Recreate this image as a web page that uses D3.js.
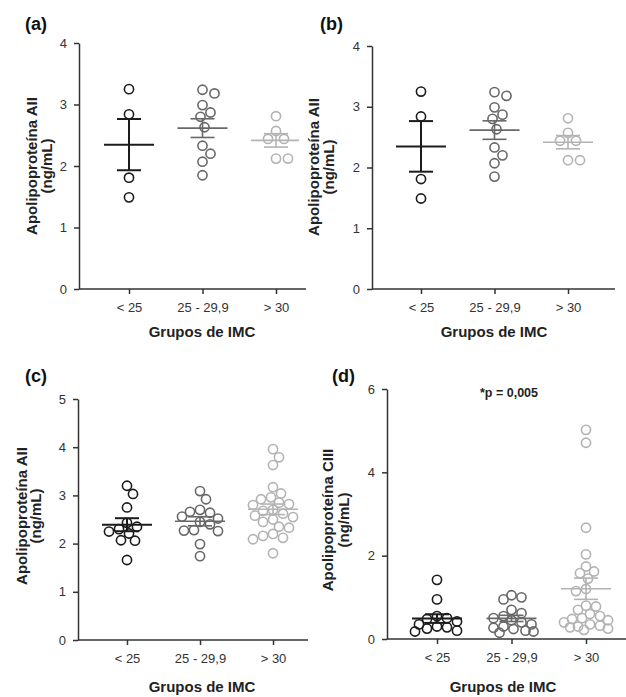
<!DOCTYPE html>
<html>
<head>
<meta charset="utf-8">
<script src="https://cdn.jsdelivr.net/npm/d3@7"></script>
<style>
    body { margin: 0; background: #fff; }
    text { font-family: "Liberation Sans", Arial, sans-serif; }
</style>
</head>
<body>
<svg id="chart" width="626" height="697"></svg>
<script>
// BMI groups (x categories)
const groups = ["< 25", "25 - 29,9", "> 30"];

// (a) and (b): Apolipoproteína AII, ng/mL
const apoA2_lt25 = [3.25, 2.84, 1.81, 1.49];
const apoA2_25to30 = [3.24, 3.18, 2.99, 2.87, 2.80, 2.63, 2.33, 2.20, 2.07, 1.85];
const apoA2_gt30 = [2.81, 2.57, 2.44, 2.44, 2.12, 2.12];

// (c): Apolipoproteína AII, ng/mL
const apoA2c_lt25 = [3.20, 3.03, 2.75, 2.43, 2.35, 2.30, 2.25, 2.21, 2.07, 2.06, 1.66];
const apoA2c_25to30 = [3.09, 2.92, 2.70, 2.66, 2.64, 2.56, 2.52, 2.45, 2.40, 2.28, 2.27, 2.26, 1.99, 1.74];
const apoA2c_gt30 = [3.96, 3.79, 3.63, 3.17, 3.04, 2.96, 2.92, 2.85, 2.82, 2.80, 2.70, 2.68,
    2.62, 2.58, 2.55, 2.50, 2.45, 2.35, 2.33, 2.20, 2.16, 2.12, 2.09, 1.80];

// (d): Apolipoproteína CIII, ng/mL
const apoC3_lt25 = [1.42, 0.95, 0.55, 0.50, 0.48, 0.42, 0.35, 0.30, 0.28, 0.25, 0.20, 0.18];
const apoC3_25to30 = [1.05, 1.00, 0.95, 0.70, 0.62, 0.55, 0.50, 0.45, 0.40, 0.35, 0.30, 0.27, 0.24, 0.20, 0.18, 0.15];
const apoC3_gt30 = [5.02, 4.71, 2.67, 2.03, 1.74, 1.62, 1.58, 1.45, 1.20, 1.15, 0.80, 0.78, 0.70,
    0.60, 0.55, 0.50, 0.48, 0.45, 0.40, 0.35, 0.32, 0.30, 0.28, 0.25, 0.22];

const ticksAB = [0, 1, 2, 3, 4];
const ticksC = [0, 1, 2, 3, 4, 5];
const ticksD = [0, 2, 4, 6];

const groupColors = ["#1c1c1c", "#686868", "#b3b3b3"];
const xTitle = "Grupos de IMC";

const svg = d3.select("#chart");

// panel placement (pixels)
const panels = [
    { label: "(a)", series: [apoA2_lt25, apoA2_25to30, apoA2_gt30], yMax: 4, ticks: ticksAB,
      yTitle: "Apolipoproteína AII", left: 79, right: 306, top: 43, bottom: 289, first: 129, last: 276,
      titleX: 32, titleGap: 15, titleY: 166, xTitleX: 202, xTitleY: 337, labelX: 25, labelY: 30,
      r: 4.6, gap: 1.5, clip: 299 },
    { label: "(b)", series: [apoA2_lt25, apoA2_25to30, apoA2_gt30], yMax: 4, ticks: ticksAB,
      yTitle: "Apolipoproteína AII", left: 372, right: 615, top: 46, bottom: 289, first: 421, last: 568,
      titleX: 314, titleGap: 15, titleY: 167, xTitleX: 494, xTitleY: 337, labelX: 320, labelY: 30,
      r: 4.6, gap: 1.5 },
    { label: "(c)", series: [apoA2c_lt25, apoA2c_25to30, apoA2c_gt30], yMax: 5, ticks: ticksC,
      yTitle: "Apolipoproteína AII", left: 78, right: 308, top: 399, bottom: 640, first: 127, last: 273,
      titleX: 22, titleGap: 14, titleY: 516, xTitleX: 202, xTitleY: 692, labelX: 25, labelY: 382,
      r: 4.6, gap: 0 },
    { label: "(d)", series: [apoC3_lt25, apoC3_25to30, apoC3_gt30], yMax: 6, ticks: ticksD,
      yTitle: "Apolipoproteína CIII", left: 387, right: 626, top: 389, bottom: 639, first: 437, last: 586,
      titleX: 328, titleGap: 16, titleY: 520, xTitleX: 503, xTitleY: 692, labelX: 332, labelY: 382,
      r: 4.6, gap: -0.5, note: "*p = 0,005", noteX: 509, noteY: 397 }
];

// simple beeswarm: spread points sideways in small steps so they don't pile up
function swarm(values, y, minDist, maxOff) {
    const pts = values.map(v => ({ v: v, py: y(v), off: 0 })).sort((a, b) => a.py - b.py);
    const placed = [];
    const step = 2;
    pts.forEach(p => {
        let best = 0, bestD = -1, found = false;
        const near = placed.filter(q => Math.abs(q.py - p.py) < minDist * 1.5);
        const bias = d3.sum(near, q => q.off);
        for (let k = 0; k <= maxOff && !found; k += step) {
            const cands = k === 0 ? [0] : (bias > 0 ? [-k, k] : [k, -k]);
            for (const off of cands) {
                const d = placed.length ? d3.min(placed, q => Math.hypot(q.off - off, q.py - p.py)) : Infinity;
                if (d >= minDist) { best = off; found = true; break; }
                if (d > bestD) { bestD = d; best = off; }
            }
        }
        p.off = best;
        placed.push(p);
    });
    return pts;
}

function drawPanel(cfg, idx) {
    const g = svg.append("g");
    const y = d3.scaleLinear().domain([0, cfg.yMax]).range([cfg.bottom, cfg.top]);
    const x = d3.scalePoint().domain(groups).range([cfg.first, cfg.last]);

    // y axis
    const yAxis = g.append("g")
        .attr("transform", `translate(${cfg.left},0)`)
        .call(d3.axisLeft(y).tickValues(cfg.ticks).tickFormat(d3.format("d"))
            .tickSize(5).tickPadding(7).tickSizeOuter(0));

    // x axis
    const xAxis = g.append("g")
        .attr("transform", `translate(0,${cfg.bottom})`)
        .call(d3.axisBottom(x).tickSize(5).tickPadding(9));
    xAxis.select(".domain").remove();
    g.append("line")
        .attr("x1", cfg.left).attr("x2", cfg.right)
        .attr("y1", cfg.bottom).attr("y2", cfg.bottom)
        .attr("stroke", "#333").attr("stroke-width", 1.5);

    [yAxis, xAxis].forEach(ax => {
        ax.selectAll("path, line").attr("stroke", "#333").attr("stroke-width", 1.5);
        ax.selectAll("text").attr("fill", "#333").attr("font-size", 13)
            .style("font-family", "'Liberation Sans', Arial, sans-serif");
    });

    // marks
    const marks = g.append("g");
    if (cfg.clip) {
        const id = "clip" + idx;
        svg.append("clipPath").attr("id", id)
            .append("rect").attr("x", 0).attr("y", 0).attr("width", cfg.clip).attr("height", 697);
        marks.attr("clip-path", `url(#${id})`);
    }

    cfg.series.forEach((vals, i) => {
        const cx = x(groups[i]);
        const color = groupColors[i];
        const pts = swarm(vals, y, 2 * cfg.r + cfg.gap, 22);

        marks.append("g").selectAll("circle")
            .data(pts)
            .enter().append("circle")
            .attr("cx", d => cx + d.off)
            .attr("cy", d => d.py)
            .attr("r", cfg.r)
            .attr("fill", "none")
            .attr("stroke", color)
            .attr("stroke-width", 1.6);

        // mean with SEM
        const mean = d3.mean(vals);
        const sem = d3.deviation(vals) / Math.sqrt(vals.length);
        const bars = marks.append("g").attr("stroke", color).attr("stroke-width", i === 0 ? 2 : 1.6);
        bars.append("line")
            .attr("x1", cx - 25).attr("x2", cx + 25)
            .attr("y1", y(mean)).attr("y2", y(mean));
        bars.append("line")
            .attr("x1", cx).attr("x2", cx)
            .attr("y1", y(mean + sem)).attr("y2", y(mean - sem));
        [mean + sem, mean - sem].forEach(v => {
            bars.append("line")
                .attr("x1", cx - 12).attr("x2", cx + 12)
                .attr("y1", y(v)).attr("y2", y(v));
        });
    });

    // titles
    const yt = g.append("g")
        .attr("transform", `translate(${cfg.titleX},${cfg.titleY}) rotate(-90)`)
        .attr("font-weight", "bold").attr("font-size", 15).attr("fill", "#222")
        .attr("text-anchor", "middle");
    yt.append("text").attr("dy", "0.35em").text(cfg.yTitle);
    yt.append("text").attr("y", cfg.titleGap).attr("dy", "0.35em").text("(ng/mL)");

    g.append("text")
        .attr("x", cfg.xTitleX).attr("y", cfg.xTitleY)
        .attr("text-anchor", "middle")
        .attr("font-weight", "bold").attr("font-size", 15).attr("fill", "#222")
        .text(xTitle);

    g.append("text")
        .attr("x", cfg.labelX).attr("y", cfg.labelY)
        .attr("font-weight", "bold").attr("font-size", 18).attr("fill", "#111")
        .text(cfg.label);

    if (cfg.note) {
        g.append("text")
            .attr("x", cfg.noteX).attr("y", cfg.noteY)
            .attr("text-anchor", "middle")
            .attr("font-weight", "bold").attr("font-size", 12.5).attr("fill", "#222")
            .text(cfg.note);
    }
}

panels.forEach(drawPanel);
</script>
</body>
</html>
